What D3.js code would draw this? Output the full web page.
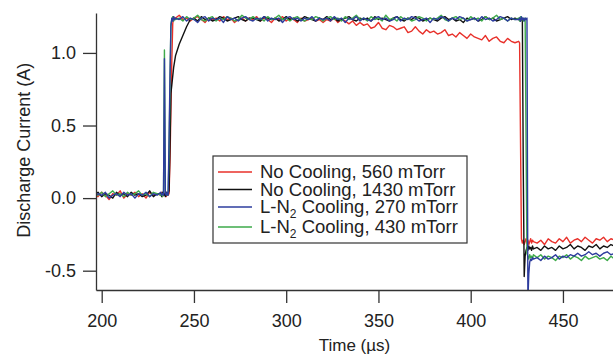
<!DOCTYPE html>
<html>
<head>
<meta charset="utf-8">
<script src="https://cdn.jsdelivr.net/npm/d3@7"></script>
<style>
    body { margin: 0; background: #fff; }
    svg { display: block; font-family: 'Liberation Sans', Arial, sans-serif; }
    .axis path, .axis line { stroke: #333; stroke-width: 1.3; }
    .axis text { font-size: 18px; fill: #222; }
    .trace { fill: none; stroke-width: 1.4; stroke-linejoin: round; }
</style>
</head>
<body>
<div id="chart"></div>
<script>
// time samples (µs), shared by all four traces
const time = [
    196, 198, 200, 202, 204, 206, 208, 210, 212, 214, 216, 218, 220, 222, 224, 226, 228, 230,
    232, 232.5, 233, 233.5, 234, 234.5, 235, 235.5, 236, 236.5, 237, 237.5, 238, 238.5, 239, 239.5, 240,
    242, 244, 246, 248, 250, 252, 254, 256, 258, 260,
    262, 264, 266, 268, 270, 272, 274, 276, 278, 280,
    282, 284, 286, 288, 290, 292, 294, 296, 298, 300,
    302, 304, 306, 308, 310, 312, 314, 316, 318, 320,
    322, 324, 326, 328, 330, 332, 334, 336, 338, 340,
    342, 344, 346, 348, 350, 352, 354, 356, 358, 360,
    362, 364, 366, 368, 370, 372, 374, 376, 378, 380,
    382, 384, 386, 388, 390, 392, 394, 396, 398, 400,
    402, 404, 406, 408, 410, 412, 414, 416, 418, 420,
    422, 424,
    426, 426.5, 427, 427.5, 428, 428.5, 429, 429.5, 430, 430.5, 431, 431.5, 432, 432.5, 433, 433.5, 434,
    436, 438, 440, 442, 444, 446, 448, 450, 452, 454, 456, 458, 460, 462, 464, 466, 468, 470, 472, 474, 476, 478
];

// discharge current (A)
const noCooling560 = [
    0.03, 0.01, 0.04, 0.02, -0.01, 0.03, 0.02, 0.05, 0.00, 0.03, 0.02, 0.04, 0.01, 0.03, 0.00, 0.04, 0.02, 0.03,
    0.02, 0.04, 0.01, 0.03, 0.02, 0.04, 0.01, 0.03, 0.02, 0.03, 0.25, 0.60, 0.95, 1.20, 1.25, 1.23, 1.24,
    1.26, 1.23, 1.24, 1.22, 1.24, 1.25, 1.23, 1.21, 1.24, 1.23,
    1.24, 1.22, 1.25, 1.23, 1.24, 1.21, 1.23, 1.24, 1.22, 1.24,
    1.23, 1.25, 1.22, 1.24, 1.23, 1.21, 1.24, 1.23, 1.25, 1.22,
    1.24, 1.23, 1.21, 1.24, 1.22, 1.23, 1.24, 1.22, 1.23, 1.21,
    1.23, 1.22, 1.24, 1.21, 1.23, 1.22, 1.20, 1.22, 1.19, 1.21,
    1.19, 1.20, 1.17, 1.18, 1.21, 1.17, 1.16, 1.19, 1.18, 1.16,
    1.17, 1.18, 1.14, 1.15, 1.18, 1.15, 1.13, 1.16, 1.14, 1.15,
    1.13, 1.14, 1.16, 1.12, 1.13, 1.11, 1.14, 1.12, 1.10, 1.13,
    1.11, 1.10, 1.09, 1.12, 1.08, 1.10, 1.11, 1.08, 1.07, 1.10,
    1.08, 1.07,
    1.08, 1.07, 0.40, -0.28, -0.31, -0.29, -0.32, -0.30, -0.28, -0.31, -0.29, -0.32, -0.30, -0.28, -0.31, -0.29, -0.30,
    -0.31, -0.29, -0.32, -0.28, -0.30, -0.31, -0.28, -0.30, -0.27, -0.31, -0.29, -0.28, -0.30, -0.27, -0.29, -0.31, -0.28, -0.29, -0.27, -0.30, -0.28, -0.29
];

const noCooling1430 = [
    0.02, 0.04, 0.01, 0.03, 0.02, 0.00, 0.04, 0.02, 0.03, 0.01, 0.04, 0.02, 0.03, 0.01, 0.02, 0.05, 0.01, 0.03,
    0.03, 0.01, 0.04, 0.02, 0.03, 0.01, 0.04, 0.02, 0.03, 0.05, 0.35, 0.72, 0.78, 0.84, 0.90, 0.94, 0.98,
    1.06, 1.12, 1.18, 1.23, 1.24, 1.22, 1.25, 1.23, 1.24, 1.22,
    1.23, 1.25, 1.24, 1.22, 1.23, 1.24, 1.25, 1.23, 1.22, 1.24,
    1.24, 1.23, 1.22, 1.25, 1.24, 1.23, 1.24, 1.22, 1.23, 1.25,
    1.23, 1.24, 1.22, 1.23, 1.25, 1.24, 1.23, 1.22, 1.24, 1.23,
    1.25, 1.23, 1.24, 1.22, 1.23, 1.24, 1.25, 1.23, 1.22, 1.24,
    1.23, 1.24, 1.22, 1.25, 1.23, 1.24, 1.23, 1.22, 1.24, 1.25,
    1.23, 1.22, 1.24, 1.23, 1.25, 1.24, 1.22, 1.23, 1.24, 1.23,
    1.22, 1.24, 1.25, 1.23, 1.24, 1.22, 1.23, 1.21, 1.24, 1.23,
    1.24, 1.22, 1.23, 1.25, 1.23, 1.24, 1.22, 1.23, 1.24, 1.25,
    1.23, 1.24,
    1.23, 1.24, 1.22, 1.24, 1.23, 0.20, -0.54, -0.40, -0.36, -0.34, -0.36, -0.33, -0.35, -0.34, -0.36, -0.33, -0.35,
    -0.34, -0.36, -0.33, -0.35, -0.34, -0.36, -0.33, -0.35, -0.34, -0.32, -0.35, -0.33, -0.34, -0.36, -0.33, -0.34, -0.32, -0.35, -0.33, -0.34, -0.32, -0.33
];

const ln2Cooling270 = [
    0.01, 0.03, 0.02, 0.04, 0.00, 0.02, 0.03, 0.01, 0.04, 0.02, 0.03, 0.00, 0.03, 0.02, 0.04, 0.01, 0.03, 0.02,
    0.04, 0.02, 0.03, 0.02, 0.96, 0.03, 0.02, 0.04, 0.02, 0.40, 0.82, 1.18, 1.24, 1.22, 1.25, 1.23, 1.24,
    1.23, 1.25, 1.22, 1.24, 1.23, 1.21, 1.24, 1.25, 1.22, 1.24,
    1.23, 1.24, 1.21, 1.25, 1.23, 1.24, 1.22, 1.24, 1.25, 1.23,
    1.22, 1.24, 1.23, 1.25, 1.22, 1.24, 1.23, 1.24, 1.21, 1.24,
    1.25, 1.23, 1.24, 1.22, 1.24, 1.23, 1.25, 1.22, 1.24, 1.23,
    1.24, 1.22, 1.25, 1.23, 1.24, 1.21, 1.24, 1.23, 1.25, 1.22,
    1.24, 1.23, 1.22, 1.24, 1.25, 1.23, 1.24, 1.22, 1.23, 1.25,
    1.22, 1.24, 1.23, 1.25, 1.24, 1.22, 1.23, 1.24, 1.21, 1.24,
    1.23, 1.25, 1.24, 1.22, 1.24, 1.23, 1.25, 1.24, 1.22, 1.23,
    1.24, 1.22, 1.25, 1.23, 1.24, 1.22, 1.23, 1.25, 1.24, 1.22,
    1.24, 1.23,
    1.23, 1.24, 1.22, 1.25, 1.23, 1.24, 1.22, 1.24, 1.23, 1.24, -0.70, -0.52, -0.44, -0.42, -0.43, -0.41, -0.42,
    -0.41, -0.43, -0.40, -0.42, -0.41, -0.39, -0.42, -0.40, -0.41, -0.39, -0.40, -0.38, -0.40, -0.39, -0.37, -0.39, -0.38, -0.40, -0.38, -0.37, -0.39, -0.38
];

const ln2Cooling430 = [
    0.03, 0.02, 0.04, 0.01, 0.03, 0.05, 0.02, 0.03, 0.01, 0.04, 0.02, 0.03, 0.05, 0.02, 0.03, 0.01, 0.04, 0.03,
    0.02, 0.03, 0.01, 0.03, 1.02, 0.04, 0.03, 0.02, 0.04, 0.30, 0.75, 1.20, 1.23, 1.25, 1.22, 1.24, 1.23,
    1.24, 1.22, 1.25, 1.23, 1.24, 1.26, 1.23, 1.22, 1.24, 1.25,
    1.22, 1.24, 1.23, 1.25, 1.24, 1.22, 1.23, 1.26, 1.24, 1.23,
    1.25, 1.23, 1.24, 1.22, 1.25, 1.23, 1.24, 1.26, 1.23, 1.24,
    1.22, 1.24, 1.25, 1.23, 1.22, 1.24, 1.23, 1.25, 1.24, 1.22,
    1.24, 1.25, 1.23, 1.24, 1.22, 1.25, 1.23, 1.24, 1.26, 1.23,
    1.24, 1.22, 1.25, 1.23, 1.24, 1.22, 1.26, 1.23, 1.24, 1.22,
    1.25, 1.23, 1.24, 1.22, 1.23, 1.25, 1.24, 1.22, 1.24, 1.23,
    1.24, 1.26, 1.23, 1.22, 1.24, 1.25, 1.23, 1.24, 1.22, 1.25,
    1.23, 1.24, 1.22, 1.25, 1.23, 1.24, 1.26, 1.23, 1.24, 1.22,
    1.24, 1.23,
    1.24, 1.22, 1.25, 1.23, 1.24, 1.22, 1.23, 1.24, 0.40, -0.38, -0.40, -0.42, -0.39, -0.41, -0.40, -0.42, -0.39,
    -0.41, -0.39, -0.42, -0.40, -0.41, -0.43, -0.40, -0.41, -0.39, -0.42, -0.40, -0.41, -0.43, -0.40, -0.42, -0.41, -0.40, -0.42, -0.41, -0.43, -0.40, -0.42
];

const seriesNames = ['No Cooling, 560 mTorr', 'No Cooling, 1430 mTorr', 'L-N2 Cooling, 270 mTorr', 'L-N2 Cooling, 430 mTorr'];
const seriesValues = [noCooling560, noCooling1430, ln2Cooling270, ln2Cooling430];
const seriesColors = ['#e8302a', '#111111', '#2d3c9e', '#3daa4a'];
const drawOrder = [0, 1, 3, 2];

const xTicks = [200, 250, 300, 350, 400, 450];
const yTicks = [-0.5, 0.0, 0.5, 1.0];

const fullWidth = 613;
const fullHeight = 358;
const margin = {top: 13, right: 0, bottom: 68, left: 96};
const width = fullWidth - margin.left - margin.right;
const height = fullHeight - margin.top - margin.bottom;

const xScale = d3.scaleLinear()
    .domain([196.91, 477.13])
    .range([0, width]);

const yScale = d3.scaleLinear()
    .domain([-0.633, 1.275])
    .range([height, 0]);

const xAxis = d3.axisBottom(xScale)
    .tickValues(xTicks)
    .tickSize(13)
    .tickSizeOuter(0)
    .tickPadding(11)
    .tickFormat(d3.format('d'));

const yAxis = d3.axisLeft(yScale)
    .tickValues(yTicks)
    .tickSize(13)
    .tickSizeOuter(0)
    .tickPadding(7)
    .tickFormat(d => d.toFixed(1));

const svg = d3.select('#chart').append('svg')
    .attr('width', fullWidth)
    .attr('height', fullHeight);

svg.append('defs').append('clipPath')
    .attr('id', 'plot-area')
    .append('rect')
    .attr('x', 0)
    .attr('y', 0)
    .attr('width', width)
    .attr('height', height);

const g = svg.append('g')
    .attr('transform', `translate(${margin.left}, ${margin.top})`);

const line = d3.line()
    .x((d, i) => xScale(time[i]))
    .y(d => yScale(d));

g.append('g')
    .attr('clip-path', 'url(#plot-area)')
    .selectAll('.trace')
    .data(drawOrder)
    .enter().append('path')
    .attr('class', 'trace')
    .attr('stroke', i => seriesColors[i])
    .attr('d', i => line(seriesValues[i]));

g.append('g')
    .attr('class', 'axis axis--x')
    .attr('transform', `translate(0, ${height})`)
    .call(xAxis);

g.append('g')
    .attr('class', 'axis axis--y')
    .call(yAxis);

g.append('text')
    .attr('x', xScale(337))
    .attr('y', height + 61)
    .attr('text-anchor', 'middle')
    .style('font-size', '17px')
    .style('fill', '#222')
    .text('Time (µs)');

g.append('text')
    .attr('transform', `translate(${-66}, ${yScale(0.33)}) rotate(-90)`)
    .attr('text-anchor', 'middle')
    .style('font-size', '18px')
    .style('fill', '#222')
    .text('Discharge Current (A)');

// legend
const legend = svg.append('g')
    .attr('transform', 'translate(213, 156)');

legend.append('rect')
    .attr('width', 254)
    .attr('height', 87)
    .attr('fill', '#fff')
    .attr('stroke', '#333')
    .attr('stroke-width', 1.2);

const rowY = [16, 33.5, 51, 71];

const row = legend.selectAll('.legend-row')
    .data(seriesNames)
    .enter().append('g')
    .attr('class', 'legend-row')
    .attr('transform', (d, i) => `translate(0, ${rowY[i]})`);

row.append('line')
    .attr('x1', 5)
    .attr('x2', 39)
    .attr('stroke', (d, i) => seriesColors[i])
    .attr('stroke-width', 1.3);

row.each(function(d) {
    const text = d3.select(this).append('text')
        .attr('x', 47)
        .attr('y', 6)
        .style('font-size', '18.5px')
        .style('fill', '#222');
    if (d.startsWith('L-N2')) {
        text.append('tspan').text('L-N');
        text.append('tspan').attr('dy', 5).style('font-size', '12px').text('2');
        text.append('tspan').attr('dy', -5).text(d.slice(4));
    } else {
        text.text(d);
    }
});
</script>
</body>
</html>
